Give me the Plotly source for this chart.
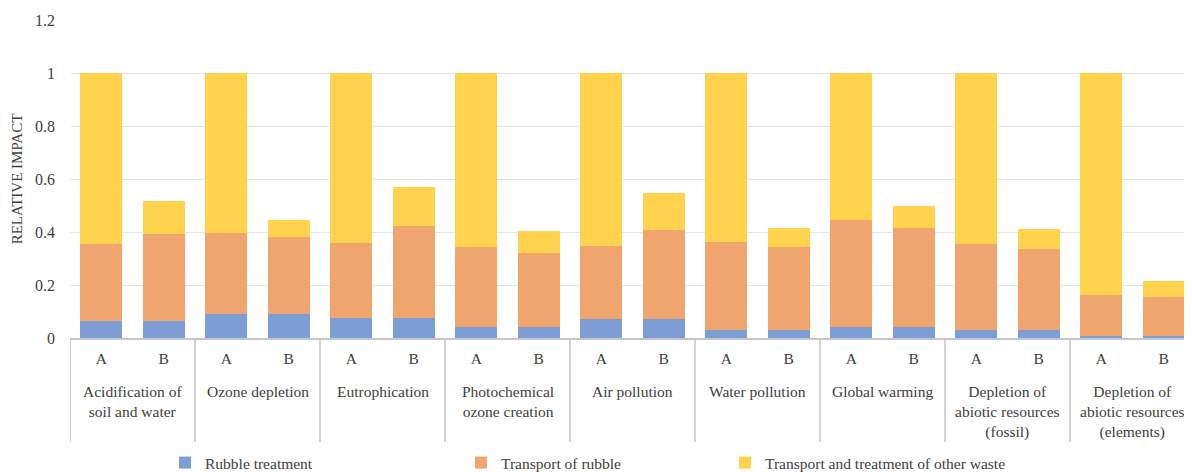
import plotly.graph_objects as go

categories = [
    "Acidification of<br>soil and water",
    "Ozone depletion",
    "Eutrophication",
    "Photochemical<br>ozone creation",
    "Air pollution",
    "Water pollution",
    "Global warming",
    "Depletion of<br>abiotic resources<br>(fossil)",
    "Depletion of<br>abiotic resources<br>(elements)",
]
scenarios = ["A", "B"]

# values (A, B per category)
rubble_treatment = [0.065, 0.065, 0.09, 0.09, 0.077, 0.077, 0.04, 0.04, 0.07, 0.07,
                    0.032, 0.032, 0.042, 0.042, 0.032, 0.032, 0.008, 0.008]
top_transport = [0.355, 0.392, 0.395, 0.38, 0.36, 0.423, 0.342, 0.32, 0.346, 0.408,
                 0.363, 0.342, 0.446, 0.414, 0.354, 0.336, 0.162, 0.156]
top_total = [1, 0.518, 1, 0.445, 1, 0.568, 1, 0.404, 1, 0.547,
             1, 0.414, 1, 0.5, 1, 0.41, 1, 0.215]

transport_rubble = [round(t - r, 4) for t, r in zip(top_transport, rubble_treatment)]
other_waste = [round(t - m, 4) for t, m in zip(top_total, top_transport)]

n_s = len(scenarios)
xpos = [g * n_s + s for g in range(len(categories)) for s in range(n_s)]
xtext = [scenarios[s] for g in range(len(categories)) for s in range(n_s)]

series = [
    ("Rubble treatment", rubble_treatment, "#7D9DD5", "legend"),
    ("Transport of rubble", transport_rubble, "#F0A46E", "legend2"),
    ("Transport and treatment of other waste", other_waste, "#FFD34D", "legend3"),
]

FAM = "Liberation Serif, DejaVu Serif, serif"
TXT = "#404040"
GRID = "#C6C6C6"

fig = go.Figure()
for name, vals, color, lg in series:
    fig.add_trace(go.Bar(
        x=xpos, y=vals, name=name, marker_color=color,
        marker_line_width=0, legend=lg,
    ))

# the page body adds an 8px offset; figure is sized to fill the rest of the window
OFF = 8
W, H = 1192 - OFF, 472 - OFF
L, T, B = 70 - OFF, 20 - OFF, 134
plot_h = H - T - B
plot_w = W - L
slot_px = 62.5  # pixels per bar slot; the last group runs past the right edge

def py(pix):
    """page pixel row -> paper y"""
    return (H - B - (pix - OFF)) / plot_h

def px(pix):
    """page pixel column -> paper x"""
    return (pix - OFF - L) / plot_w

for g, cat in enumerate(categories):
    fig.add_annotation(
        x=g * n_s + (n_s - 1) / 2, xref="x", y=py(381), yref="paper",
        text=cat, showarrow=False, yanchor="top", xanchor="center",
        font=dict(family=FAM, size=15.5, color=TXT),
    )
for g in range(len(categories)):
    fig.add_shape(
        type="line", xref="x", yref="paper",
        x0=g * n_s - 0.5, x1=g * n_s - 0.5, y0=0, y1=py(442),
        line=dict(color=GRID, width=1.5),
    )

legend_common = dict(orientation="h", yanchor="middle", y=py(463), xanchor="left",
                     font=dict(family=FAM, size=15.5, color=TXT),
                     bgcolor="rgba(0,0,0,0)", itemwidth=30)

fig.update_layout(
    barmode="stack",
    bargap=0.335,
    width=W, height=H,
    margin=dict(l=L, r=0, t=T, b=B, autoexpand=False),
    paper_bgcolor="white", plot_bgcolor="white",
    font=dict(family=FAM, size=15.5, color=TXT),
    showlegend=True,
    legend=dict(legend_common, x=px(165)),
    legend2=dict(legend_common, x=px(461)),
    legend3=dict(legend_common, x=px(725)),
    yaxis=dict(
        range=[0, 1.2], dtick=0.2, tickformat="~g",
        showgrid=True, gridcolor="#E6E6E6", gridwidth=1,
        zeroline=False, showline=False, ticks="",
        automargin=False, ticklabelstandoff=14,
        title=dict(text="RELATIVE IMPACT", font=dict(size=15, color=TXT), standoff=8),
        tickfont=dict(size=16, color=TXT),
    ),
    xaxis=dict(
        range=[-0.5, -0.5 + plot_w / slot_px],
        tickmode="array", tickvals=xpos, ticktext=xtext,
        showline=True, linecolor=GRID, linewidth=1.5,
        showgrid=False, zeroline=False, ticks="",
        automargin=False, ticklabelstandoff=6,
        tickfont=dict(size=15.5, color=TXT),
    ),
)

fig.write_html("out.html")
